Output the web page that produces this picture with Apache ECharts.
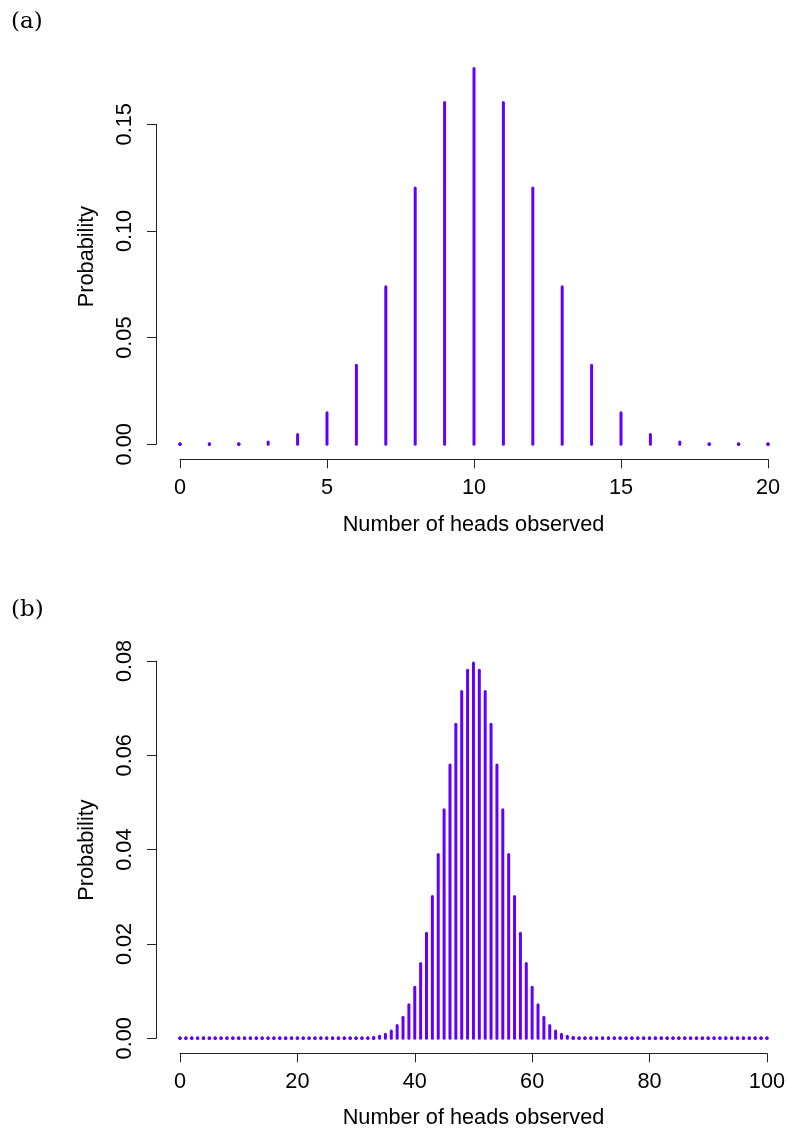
<!DOCTYPE html>
<html>
<head>
<meta charset="utf-8">
<script src="https://cdn.jsdelivr.net/npm/echarts@6/dist/echarts.min.js"></script>
<style>
html,body{margin:0;padding:0;background:#fff;}
#chart{width:788px;height:1133px;}
</style>
</head>
<body>
<div id="chart"></div>
<script>
// ---- data ----
var headsA = [0,1,2,3,4,5,6,7,8,9,10,11,12,13,14,15,16,17,18,19,20];
var probA = [0.000001,0.000019,0.00018,0.0011,0.0046,0.0148,0.0370,0.0739,0.1201,0.1602,0.1762,
             0.1602,0.1201,0.0739,0.0370,0.0148,0.0046,0.0011,0.00018,0.000019,0.000001];

var headsB = [];
for (var i = 0; i <= 100; i++) headsB.push(i);
var probB = [
  0,0,0,0,0,0,0,0,0,0,
  0,0,0,0,0,0,0,0,0,0,
  0,0,0,0,0,0,0,0,0,0.0000098,
  0.0000232,0.0000526,0.000113,0.000233,0.000458,0.000864,0.00156,0.00270,0.00447,0.00711,
  0.01084,0.01587,0.02229,0.03007,0.03895,0.04847,0.05796,0.06659,0.07353,0.07803,
  0.07959,
  0.07803,0.07353,0.06659,0.05796,0.04847,0.03895,0.03007,0.02229,0.01587,0.01084,
  0.00711,0.00447,0.00270,0.00156,0.000864,0.000458,0.000233,0.000113,0.0000526,0.0000232,
  0.0000098,0,0,0,0,0,0,0,0,0,
  0,0,0,0,0,0,0,0,0,0,
  0,0,0,0,0,0,0,0,0,0
];

var xTicksA = {min: 0, max: 20, interval: 5};
var yTicksA = {min: 0, max: 0.15, interval: 0.05};
var xTicksB = {min: 0, max: 100, interval: 20};
var yTicksB = {min: 0, max: 0.08, interval: 0.02};

var panelLabels = ['(a)', '(b)'];
var xTitle = 'Number of heads observed';
var yTitle = 'Probability';

// ---- styling ----
var barColor = '#6200ff';
var axisColor = '#222';
var fontFam = '"Liberation Sans", Arial, Helvetica, sans-serif';
var fs = 21.7;

function pairs(xs, ys) { return xs.map(function (x, i) { return [x, ys[i]]; }); }

function renderSpike(params, api) {
  var x = api.value(0), y = api.value(1);
  var p0 = api.coord([x, 0]);
  var p1 = api.coord([x, y]);
  var len = p0[1] - p1[1];
  var children = [
    {type: 'line', shape: {x1: p0[0], y1: p0[1], x2: p1[0], y2: Math.min(p1[1], p0[1] - 0.5)},
      style: {stroke: barColor, lineWidth: 3, lineCap: 'round'}}
  ];
  if (len < 2) {
    children.push({type: 'circle', shape: {cx: p0[0], cy: p0[1], r: 1.7}, style: {fill: barColor}});
  }
  return {type: 'group', children: children};
}

function xAxisCfg(idx, t) {
  return {
    type: 'value', gridIndex: idx, min: t.min, max: t.max, interval: t.interval,
    offset: 15,
    axisLine: {show: true, onZero: false, lineStyle: {color: axisColor, width: 1}},
    axisTick: {show: true, length: 9, lineStyle: {color: axisColor, width: 1}},
    splitLine: {show: false},
    axisLabel: {color: '#000', fontFamily: fontFam, fontSize: fs, margin: 18, showMinLabel: true, showMaxLabel: true}
  };
}
function yAxisCfg(idx, t) {
  return {
    type: 'value', gridIndex: idx, min: t.min, max: t.max, interval: t.interval,
    offset: 24,
    axisLine: {show: true, onZero: false, lineStyle: {color: axisColor, width: 1}},
    axisTick: {show: true, length: 9, lineStyle: {color: axisColor, width: 1}},
    splitLine: {show: false},
    axisLabel: {color: '#000', fontFamily: fontFam, fontSize: fs, margin: 20, rotate: 90,
      formatter: function (v) { return v.toFixed(2); }}
  };
}

var chart = echarts.init(document.getElementById('chart'), null, {renderer: 'canvas'});
chart.setOption({
  animation: false,
  backgroundColor: '#fff',
  grid: [
    {left: 180, width: 588, top: 124.3, height: 320, containLabel: false},
    {left: 180, width: 588, top: 661, height: 377.3, containLabel: false}
  ],
  xAxis: [xAxisCfg(0, xTicksA), xAxisCfg(1, xTicksB)],
  yAxis: [yAxisCfg(0, yTicksA), yAxisCfg(1, yTicksB)],
  series: [
    {type: 'custom', xAxisIndex: 0, yAxisIndex: 0, clip: false, renderItem: renderSpike,
      data: pairs(headsA, probA), encode: {x: 0, y: 1}},
    {type: 'custom', xAxisIndex: 1, yAxisIndex: 1, clip: false, renderItem: renderSpike,
      data: pairs(headsB, probB), encode: {x: 0, y: 1}}
  ],
  graphic: [
    {type: 'text', left: 11, top: 11, style: {text: panelLabels[0], font: '23px "DejaVu Serif", "Liberation Serif", serif', fill: '#000'}},
    {type: 'text', left: 11, top: 599, style: {text: panelLabels[1], font: '23px "DejaVu Serif", "Liberation Serif", serif', fill: '#000'}},
    {type: 'text', x: 473.5, y: 525, style: {text: xTitle, font: fs + 'px ' + fontFam, fill: '#000', align: 'center', verticalAlign: 'middle'}},
    {type: 'text', x: 473.5, y: 1118, style: {text: xTitle, font: fs + 'px ' + fontFam, fill: '#000', align: 'center', verticalAlign: 'middle'}},
    {type: 'text', x: 87, y: 256.5, rotation: Math.PI / 2, style: {text: yTitle, font: fs + 'px ' + fontFam, fill: '#000', align: 'center', verticalAlign: 'middle'}},
    {type: 'text', x: 87, y: 850, rotation: Math.PI / 2, style: {text: yTitle, font: fs + 'px ' + fontFam, fill: '#000', align: 'center', verticalAlign: 'middle'}}
  ]
});
</script>
</body>
</html>
